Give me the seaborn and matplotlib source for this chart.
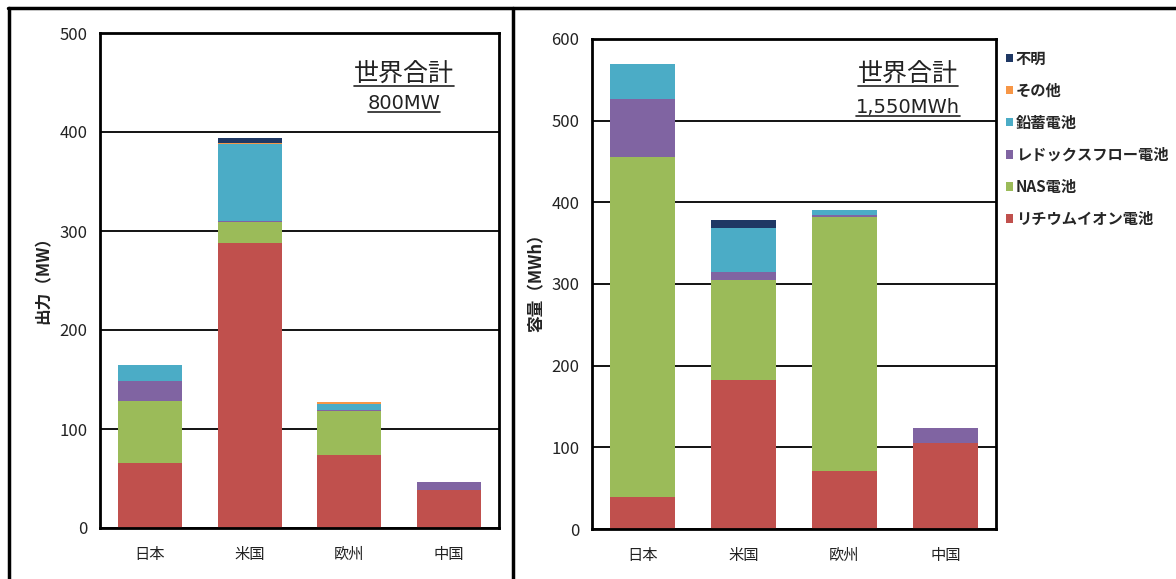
import matplotlib
matplotlib.use("Agg")
import matplotlib.pyplot as plt
from matplotlib.patches import Patch
from matplotlib.lines import Line2D
import seaborn as sns

sns.set_theme(style="white")
plt.rcParams["font.family"] = ["Liberation Sans Narrow", "Noto Sans CJK JP", "DejaVu Sans"]

# Regions
regions = ["日本", "米国", "欧州", "中国"]

# Battery types (bottom -> top of each stack)
battery_types = ["リチウムイオン電池", "NAS電池", "レドックスフロー電池", "鉛蓄電池", "その他", "不明"]
battery_colors = ["#C0504D", "#9BBB59", "#8064A2", "#4BACC6", "#F79646", "#1F3864"]

# Output (MW)
li_mw = [66, 288, 74, 38]
nas_mw = [62, 21, 44, 0]
redox_mw = [20, 1, 1, 8]
lead_mw = [17, 78, 6, 0]
other_mw = [0, 1, 2, 0]
unknown_mw = [0, 5, 0, 0]

# Capacity (MWh)
li_mwh = [39, 182, 71, 105]
nas_mwh = [417, 123, 311, 0]
redox_mwh = [70, 10, 3, 19]
lead_mwh = [43, 54, 5, 0]
other_mwh = [0, 0, 1, 0]
unknown_mwh = [0, 9, 0, 0]

mw_layers = [li_mw, nas_mw, redox_mw, lead_mw, other_mw, unknown_mw]
mwh_layers = [li_mwh, nas_mwh, redox_mwh, lead_mwh, other_mwh, unknown_mwh]

fig = plt.figure(figsize=(11.76, 5.79), dpi=100)
fig.patch.set_facecolor("white")

ax1 = fig.add_axes([100 / 1176, 1 - 528 / 579, 399 / 1176, 495 / 579])
ax2 = fig.add_axes([592 / 1176, 1 - 529 / 579, 404 / 1176, 490 / 579])


def stacked(ax, layers, ymax, step):
    bottom = [0] * len(regions)
    for vals, col in zip(layers, battery_colors):
        sns.barplot(x=regions, y=vals, bottom=bottom, color=col, width=0.64,
                    saturation=1, ax=ax, linewidth=0)
        bottom = [b + v for b, v in zip(bottom, vals)]
    ax.set_ylim(0, ymax)
    ax.set_yticks(range(0, ymax + 1, step))
    ax.set_xlim(-0.5, 3.5)
    ax.set_axisbelow(True)
    ax.yaxis.grid(True, color="black", linewidth=1.3)
    ax.xaxis.grid(False)
    for sp in ax.spines.values():
        sp.set_color("black")
        sp.set_linewidth(2)
    ax.tick_params(axis="y", length=0, pad=9, labelsize=12, labelcolor="#222222")
    ax.tick_params(axis="x", length=0, pad=13, labelsize=11, labelcolor="#222222")
    ax.set_xlabel("")


stacked(ax1, mw_layers, 500, 100)
stacked(ax2, mwh_layers, 600, 100)

ax1.set_ylabel("出力（MW）", fontsize=12, color="#222222",
               family=["Noto Sans CJK JP"], fontweight="bold")
ax1.yaxis.set_label_coords(-0.12, 0.51)
ax2.set_ylabel("容量（MWh）", fontsize=12, color="#222222",
               family=["Noto Sans CJK JP"], fontweight="bold")
ax2.yaxis.set_label_coords(-0.115, 0.51)

# Totals
t1a = ax1.text(0.762, 0.917, "世界合計", transform=ax1.transAxes, ha="center",
               va="center", fontsize=18, family=["Noto Sans CJK JP"], color="#222222")
t1b = ax1.text(0.762, 0.857, "800MW", transform=ax1.transAxes, ha="center",
               va="center", fontsize=14, family=["DejaVu Sans"], color="#222222")
t2a = ax2.text(0.782, 0.929, "世界合計", transform=ax2.transAxes, ha="center",
               va="center", fontsize=18, family=["Noto Sans CJK JP"], color="#222222")
t2b = ax2.text(0.782, 0.861, "1,550MWh", transform=ax2.transAxes, ha="center",
               va="center", fontsize=14, family=["DejaVu Sans"], color="#222222")

# Legend
handles = [Patch(facecolor=c, edgecolor="none") for c in battery_colors][::-1]
labels = battery_types[::-1]
fig.legend(handles, labels, loc="upper left", bbox_to_anchor=(992 / 1176, 1 - 37 / 579),
           frameon=False, handlelength=0.45, handleheight=0.45, handletextpad=0.2,
           labelspacing=1.05, prop={"family": ["Noto Sans CJK JP"], "size": 11,
                                    "weight": "bold"})

# Underlines below the totals
fig.canvas.draw()
renderer = fig.canvas.get_renderer()
inv = fig.transFigure.inverted()
for t in (t1a, t1b, t2a, t2b):
    bb = t.get_window_extent(renderer)
    (x0, y0) = inv.transform((bb.x0, bb.y0 + 1))
    (x1, _) = inv.transform((bb.x1, bb.y0 + 1))
    fig.add_artist(Line2D([x0, x1], [y0, y0], color="#222222", linewidth=1.2,
                          transform=fig.transFigure))

# Panel frame lines
H = 579.0
W = 1176.0
fig.add_artist(Line2D([8 / W, 1.0], [1 - 8 / H, 1 - 8 / H], color="black", linewidth=2.5,
                      transform=fig.transFigure))
fig.add_artist(Line2D([9 / W, 9 / W], [0, 1 - 8 / H], color="black", linewidth=2.5,
                      transform=fig.transFigure))
fig.add_artist(Line2D([513 / W, 513 / W], [0, 1 - 8 / H], color="black", linewidth=2.5,
                      transform=fig.transFigure))

fig.savefig("out.png", dpi=100, facecolor="white")
